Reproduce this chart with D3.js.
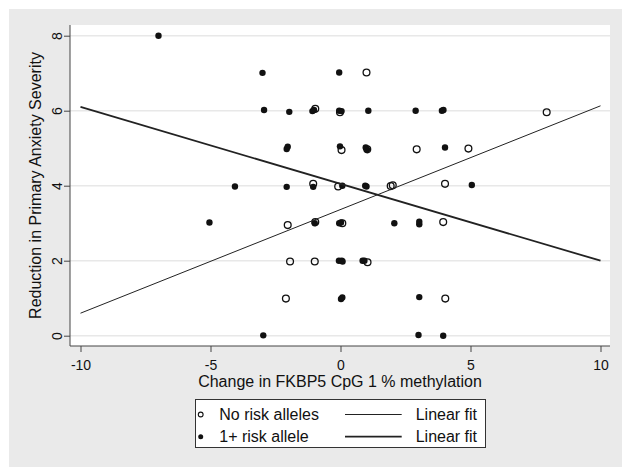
<!DOCTYPE html>
<html>
<head>
  <meta charset="utf-8">
  <title>FKBP5 methylation vs anxiety</title>
  <script src="https://d3js.org/d3.v7.min.js"></script>
  <style>
    body { margin: 0; background: #fff; }
    text { font-family: "Liberation Sans", Arial, sans-serif; fill: #111; }
  </style>
</head>
<body>
  <svg id="chart"></svg>
  <script>
    // no risk alleles (hollow markers): [change in methylation, reduction in severity]
    var noRisk = [
      [1.0, 7.02], [-0.97, 6.05], [-0.02, 5.96], [7.93, 5.96],
      [0.04, 4.95], [1.03, 4.97], [2.93, 4.97], [4.92, 4.99],
      [-1.05, 4.05], [-0.09, 3.98], [1.93, 3.99], [2.01, 4.01], [4.02, 4.05],
      [-2.03, 2.95], [-0.97, 3.03], [0.07, 3.0], [3.95, 3.03],
      [-1.94, 1.98], [-0.99, 1.98], [1.04, 1.96],
      [-2.1, 0.99], [4.03, 0.99]
    ];
    // 1+ risk allele (solid markers)
    var risk = [
      [-7.0, 8.0],
      [-3.0, 7.01], [-0.05, 7.02],
      [-2.94, 6.02], [-1.97, 5.97], [-1.08, 5.99], [-1.02, 6.02], [-0.05, 6.0], [0.04, 5.99],
      [1.07, 6.0], [2.89, 6.0], [3.9, 6.0], [3.96, 6.02],
      [-2.07, 4.98], [-2.03, 5.04], [-0.02, 5.05], [0.97, 5.02], [1.02, 4.97], [4.02, 5.02],
      [-4.06, 3.98], [-2.07, 3.97], [-1.05, 3.97], [0.07, 4.0], [0.95, 4.0], [1.0, 3.98], [5.05, 4.02],
      [-5.04, 3.02], [-0.99, 3.0], [-0.05, 3.0], [0.02, 3.02], [2.07, 3.0], [3.03, 2.97], [3.03, 3.04],
      [-0.06, 2.0], [0.05, 2.0], [0.08, 1.98], [0.85, 2.0], [0.92, 2.0],
      [0.02, 0.98], [0.07, 1.02], [3.03, 1.03],
      [-2.97, 0.01], [3.0, 0.02], [3.95, 0.0]
    ];
    // fitted lines, evaluated at the ends of the x range
    var fitX = [-10, 10];
    var fitNoRisk = [0.6, 6.13];
    var fitRisk = [6.1, 2.0];

    var xTicks = [-10, -5, 0, 5, 10];
    var yTicks = [0, 2, 4, 6, 8];
    var xTitle = "Change in FKBP5 CpG 1 % methylation";
    var yTitle = "Reduction in Primary Anxiety Severity";
    var legendItems = ["No risk alleles", "1+ risk allele"];

    var width = 622, height = 467;
    var plot = { left: 70, right: 610, top: 25, bottom: 346 };

    var svg = d3.select("#chart")
      .attr("width", width)
      .attr("height", height);

    svg.append("rect")
      .attr("x", 9).attr("y", 9)
      .attr("width", width - 9).attr("height", height - 9)
      .attr("fill", "#eaeaea");

    svg.append("rect")
      .attr("x", plot.left).attr("y", plot.top)
      .attr("width", plot.right - plot.left).attr("height", plot.bottom - plot.top)
      .attr("fill", "#fff");

    var x = d3.scaleLinear().domain([-10, 10]).range([80.5, 600.5]);
    var y = d3.scaleLinear().domain([0, 8]).range([335.7, 35.7]);

    // grid
    svg.append("g").selectAll("line")
      .data(yTicks)
      .enter().append("line")
      .attr("x1", plot.left).attr("x2", plot.right)
      .attr("y1", d => y(d)).attr("y2", d => y(d))
      .attr("stroke", "#e8e8e8")
      .attr("stroke-width", 1.5);

    // x axis (plain hyphen for negatives, like the original)
    var xAxis = svg.append("g")
      .attr("transform", "translate(0," + plot.bottom + ")")
      .call(d3.axisBottom(x).tickValues(xTicks).tickSize(6).tickPadding(8).tickFormat(d => String(d)));
    xAxis.select(".domain").remove();
    xAxis.selectAll("line").attr("stroke", "#444");
    xAxis.selectAll("text").style("font-size", "14px").attr("fill", "#111");

    // y axis with rotated labels
    var yAxis = svg.append("g")
      .attr("transform", "translate(" + plot.left + ",0)")
      .call(d3.axisLeft(y).tickValues(yTicks).tickSize(6).tickFormat(d => String(d)));
    yAxis.select(".domain").remove();
    yAxis.selectAll("line").attr("stroke", "#444");
    yAxis.selectAll("text")
      .attr("transform", "rotate(-90)")
      .attr("x", 0).attr("y", -8).attr("dy", 0)
      .attr("text-anchor", "middle")
      .style("font-size", "14px")
      .attr("fill", "#111");

    svg.append("line")
      .attr("x1", plot.left).attr("x2", plot.right)
      .attr("y1", plot.bottom).attr("y2", plot.bottom)
      .attr("stroke", "#444");
    svg.append("line")
      .attr("x1", plot.left).attr("x2", plot.left)
      .attr("y1", plot.top).attr("y2", plot.bottom)
      .attr("stroke", "#444");

    // titles
    svg.append("text")
      .attr("x", (plot.left + plot.right) / 2)
      .attr("y", 386.5)
      .attr("text-anchor", "middle")
      .style("font-size", "16px")
      .text(xTitle);

    svg.append("text")
      .attr("transform", "translate(41," + ((plot.top + plot.bottom) / 2) + ") rotate(-90)")
      .attr("text-anchor", "middle")
      .style("font-size", "16px")
      .text(yTitle);

    // points
    svg.append("g").selectAll("circle")
      .data(noRisk)
      .enter().append("circle")
      .attr("cx", d => x(d[0]))
      .attr("cy", d => y(d[1]))
      .attr("r", 3.4)
      .attr("fill", "none")
      .attr("stroke", "#111")
      .attr("stroke-width", 1.3);

    svg.append("g").selectAll("circle")
      .data(risk)
      .enter().append("circle")
      .attr("cx", d => x(d[0]))
      .attr("cy", d => y(d[1]))
      .attr("r", 3.2)
      .attr("fill", "#111");

    // fit lines
    var line = d3.line().x(d => x(d[0])).y(d => y(d[1]));
    svg.append("path")
      .datum(fitX.map((v, i) => [v, fitNoRisk[i]]))
      .attr("d", line)
      .attr("fill", "none")
      .attr("stroke", "#222")
      .attr("stroke-width", 1);
    svg.append("path")
      .datum(fitX.map((v, i) => [v, fitRisk[i]]))
      .attr("d", line)
      .attr("fill", "none")
      .attr("stroke", "#222")
      .attr("stroke-width", 1.8);

    // legend
    var legend = svg.append("g");
    legend.append("rect")
      .attr("x", 195.5).attr("y", 399.5)
      .attr("width", 290).attr("height", 48)
      .attr("fill", "#fff")
      .attr("stroke", "#333");

    var rows = [414.5, 436.7];
    legend.append("circle")
      .attr("cx", 200.7).attr("cy", rows[0]).attr("r", 2.4)
      .attr("fill", "none").attr("stroke", "#111").attr("stroke-width", 1.1);
    legend.append("circle")
      .attr("cx", 200.7).attr("cy", rows[1]).attr("r", 2.5)
      .attr("fill", "#111");

    legendItems.forEach(function(label, i) {
      legend.append("text")
        .attr("x", 219.3).attr("y", rows[i] + 5.7)
        .style("font-size", "16px")
        .text(label);
      legend.append("line")
        .attr("x1", 345).attr("x2", 401.7)
        .attr("y1", rows[i]).attr("y2", rows[i])
        .attr("stroke", "#222")
        .attr("stroke-width", i === 0 ? 1 : 1.8);
      legend.append("text")
        .attr("x", 415.7).attr("y", rows[i] + 5.7)
        .style("font-size", "16px")
        .text("Linear fit");
    });
  </script>
</body>
</html>
